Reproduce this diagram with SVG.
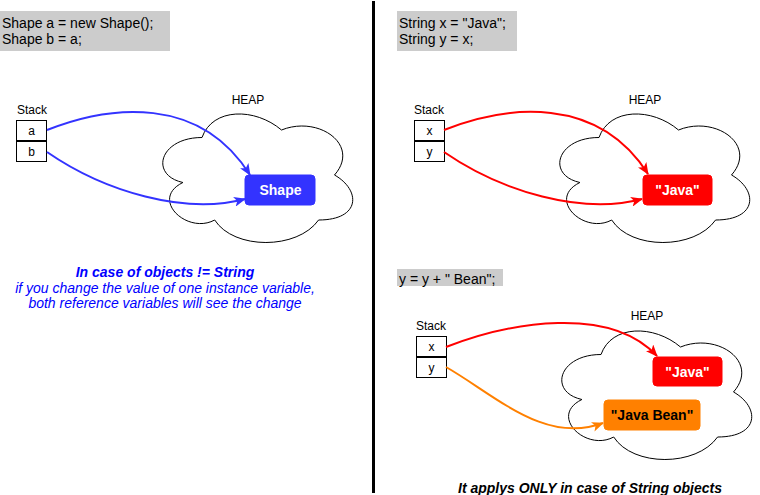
<svg xmlns="http://www.w3.org/2000/svg" width="760" height="495" viewBox="0 0 760 495">
<style>
text{font-family:"Liberation Sans",Arial,sans-serif;}
.code{font-size:14px;fill:#000;}
.lbl{font-size:12px;fill:#000;text-anchor:middle;}
.box{fill:#fff;stroke:#000;stroke-width:1;}
.cloud{fill:#fff;stroke:#000;stroke-width:1;}
.obj{font-size:14px;font-weight:bold;text-anchor:middle;}
.gray{fill:#CCCCCC;}
.edge{fill:none;stroke-width:2;}
.note{font-size:14px;font-style:italic;text-anchor:middle;}
</style>
<defs>
<path id="cloud" d="M53,37.5 C10.6,37.5 0,75 33.9,82.5 C0,99 38.2,135 65.7,120 C84.8,150 148.4,150 169.6,120 C212,120 212,90 185.5,75 C212,45 169.6,15 132.5,30 C106,7.5 63.6,7.5 53,37.5 Z"/>
<marker id="ab" markerUnits="userSpaceOnUse" viewBox="0 0 12 10" refX="11" refY="5" markerWidth="12" markerHeight="10" orient="auto"><path d="M0,0 L12,5 L0,10 L3,5 Z" fill="#3333FF"/></marker>
<marker id="ar" markerUnits="userSpaceOnUse" viewBox="0 0 12 10" refX="11" refY="5" markerWidth="12" markerHeight="10" orient="auto"><path d="M0,0 L12,5 L0,10 L3,5 Z" fill="#FF0000"/></marker>
<marker id="ao" markerUnits="userSpaceOnUse" viewBox="0 0 12 10" refX="11" refY="5" markerWidth="12" markerHeight="10" orient="auto"><path d="M0,0 L12,5 L0,10 L3,5 Z" fill="#FF8000"/></marker>
</defs>
<rect width="760" height="495" fill="#fff"/>

<!-- divider -->
<line x1="373.5" y1="1" x2="373.5" y2="493" stroke="#000" stroke-width="3"/>

<!-- left panel -->
<g id="code-left">
<rect class="gray" x="0" y="11" width="170" height="40"/>
<text class="code" x="2" y="28">Shape a = new Shape();</text>
<text class="code" x="2" y="44">Shape b = a;</text>
</g>
<g id="stack-left">
<text class="lbl" x="32" y="114">Stack</text>
<rect class="box" x="16.5" y="120.5" width="30" height="20"/>
<text class="lbl" x="31.5" y="135">a</text>
<rect class="box" x="16.5" y="141.5" width="30" height="20"/>
<text class="lbl" x="31.5" y="156">b</text>
</g>
<g id="heap-left">
<text class="lbl" x="248" y="104">HEAP</text>
<use href="#cloud" class="cloud" x="149" y="100"/>
</g>
<g id="obj-shape">
<rect x="245" y="175" width="70" height="30" rx="4" fill="#3333FF" stroke="#3333FF"/>
<text class="obj" x="280.5" y="195" fill="#fff">Shape</text>
</g>
<g id="note-left" fill="#0000FF">
<text class="note" x="165" y="277" font-weight="bold">In case of objects != String</text>
<text class="note" x="165" y="293">if you change the value of one instance variable,</text>
<text class="note" x="165" y="308">both reference variables will see the change</text>
</g>

<!-- right top panel -->
<g id="code-right-top">
<rect class="gray" x="397" y="11" width="120" height="40"/>
<text class="code" x="399" y="28">String x = "Java";</text>
<text class="code" x="399" y="44">String y = x;</text>
</g>
<g id="stack-right-top">
<text class="lbl" x="429" y="114">Stack</text>
<rect class="box" x="414.5" y="120.5" width="30" height="20"/>
<text class="lbl" x="429.5" y="135">x</text>
<rect class="box" x="414.5" y="141.5" width="30" height="20"/>
<text class="lbl" x="429.5" y="156">y</text>
</g>
<g id="heap-right-top">
<text class="lbl" x="645" y="104">HEAP</text>
<use href="#cloud" class="cloud" x="546" y="100"/>
</g>
<g id="obj-java-top">
<rect x="643" y="175" width="69" height="30" rx="4" fill="#FF0000" stroke="#FF0000"/>
<text class="obj" x="677.5" y="195" fill="#fff">"Java"</text>
</g>

<!-- right bottom panel -->
<g id="code-right-bottom">
<rect class="gray" x="397" y="269" width="106" height="17"/>
<text class="code" x="399" y="284">y = y + " Bean";</text>
</g>
<g id="stack-right-bottom">
<text class="lbl" x="431" y="330">Stack</text>
<rect class="box" x="416.5" y="336.5" width="30" height="20"/>
<text class="lbl" x="431.5" y="351">x</text>
<rect class="box" x="416.5" y="357.5" width="30" height="20"/>
<text class="lbl" x="431.5" y="372">y</text>
</g>
<g id="heap-right-bottom">
<text class="lbl" x="647" y="320">HEAP</text>
<use href="#cloud" class="cloud" x="548" y="317"/>
</g>
<g id="obj-java-bottom">
<rect x="653" y="357" width="69" height="29" rx="4" fill="#FF0000" stroke="#FF0000"/>
<text class="obj" x="687.5" y="376.5" fill="#fff">"Java"</text>
</g>
<g id="obj-javabean">
<rect x="604" y="400" width="96" height="30" rx="4" fill="#FF8000" stroke="#FF8000"/>
<text class="obj" x="652" y="420" fill="#000">"Java Bean"</text>
</g>
<g id="note-right">
<text class="note" x="590" y="493" font-weight="bold" fill="#000">It applys ONLY in case of String objects</text>
</g>

<!-- connectors -->
<g id="connectors">
<path class="edge" stroke="#3333FF" marker-end="url(#ab)" d="M47,130 C110,105 200,95 250,175"/>
<path class="edge" stroke="#3333FF" marker-end="url(#ab)" d="M47,152 C105,192 185,215 245,199"/>
<path class="edge" stroke="#FF0000" marker-end="url(#ar)" d="M444,130 C507,105 598,95 648,174"/>
<path class="edge" stroke="#FF0000" marker-end="url(#ar)" d="M444,152 C502,192 582,215 642,199"/>
<path class="edge" stroke="#FF0000" marker-end="url(#ar)" d="M446,347 C510,322 610,305 657,356"/>
<path class="edge" stroke="#FF8000" marker-end="url(#ao)" d="M446,367 C495,395 545,445 603,423"/>
</g>
</svg>
